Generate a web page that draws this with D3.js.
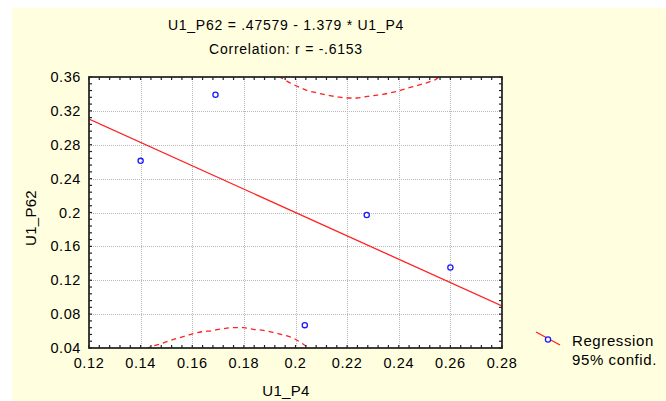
<!DOCTYPE html>
<html>
<head>
<meta charset="utf-8">
<style>
    body { margin: 0; background: #fff; }
    svg { font-family: "Liberation Sans", Arial, sans-serif; }
    .grid line { stroke: #b8b8b8; stroke-dasharray: 1,1; shape-rendering: crispEdges; }
    .tick-label { font-size: 14.5px; letter-spacing: 0.6px; fill: #000; }
</style>
</head>
<body>
<script src="https://d3js.org/d3.v7.min.js"></script>
<script>
    // chart values
    var titleLines = ["U1_P62 = .47579 - 1.379 * U1_P4", "Correlation: r = -.6153"];
    var xLabel = "U1_P4";
    var yLabel = "U1_P62";
    var legendLabels = ["Regression", "95% confid."];

    var xTicks = [0.12, 0.14, 0.16, 0.18, 0.2, 0.22, 0.24, 0.26, 0.28];
    var yTicks = [0.04, 0.08, 0.12, 0.16, 0.2, 0.24, 0.28, 0.32, 0.36];

    var pointX = [0.14, 0.169, 0.2276, 0.26, 0.2036];
    var pointY = [0.261, 0.339, 0.197, 0.135, 0.067];

    var intercept = 0.47579;
    var slope = -1.379;

    var upperBandX = [0.1935, 0.1959, 0.2002, 0.2041, 0.2079, 0.2121, 0.2160, 0.2198, 0.2239, 0.2278, 0.2317, 0.2360, 0.2398, 0.2441, 0.2480, 0.2521, 0.2537, 0.2560];
    var upperBandY = [0.3610, 0.3565, 0.3497, 0.3446, 0.3415, 0.3387, 0.3367, 0.3352, 0.3352, 0.3372, 0.3387, 0.3408, 0.3435, 0.3474, 0.3506, 0.3545, 0.3561, 0.3610];

    var lowerBandX = [0.1420, 0.1440, 0.1475, 0.1517, 0.1555, 0.1598, 0.1637, 0.1675, 0.1718, 0.1759, 0.1798, 0.1837, 0.1875, 0.1914, 0.1953, 0.1998, 0.2030, 0.2050, 0.2065];
    var lowerBandY = [0.0390, 0.0415, 0.0447, 0.0491, 0.0526, 0.0565, 0.0592, 0.0604, 0.0628, 0.0640, 0.0640, 0.0621, 0.0609, 0.0585, 0.0554, 0.0506, 0.0444, 0.0408, 0.0380];

    // layout
    var W = 666, H = 401;
    var plot = { left: 89, right: 502, top: 77, bottom: 348 };

    var svg = d3.select("body").append("svg")
        .attr("width", W)
        .attr("height", H);

    // yellow panel
    svg.append("rect")
        .attr("x", 12).attr("y", 8)
        .attr("width", W - 12).attr("height", H - 8)
        .attr("fill", "#ffffdf");

    var x = d3.scaleLinear().domain([0.12, 0.28]).range([plot.left, plot.right]);
    var y = d3.scaleLinear().domain([0.04, 0.36]).range([plot.bottom, plot.top]);

    svg.append("rect")
        .attr("x", plot.left).attr("y", plot.top)
        .attr("width", plot.right - plot.left)
        .attr("height", plot.bottom - plot.top)
        .attr("fill", "#fff");

    svg.append("clipPath").attr("id", "clip")
        .append("rect")
        .attr("x", plot.left).attr("y", plot.top)
        .attr("width", plot.right - plot.left)
        .attr("height", plot.bottom - plot.top);

    // grid
    var grid = svg.append("g").attr("class", "grid");
    grid.selectAll(".gx")
        .data(xTicks.slice(1, -1))
        .enter().append("line")
        .attr("x1", function(d) { return Math.round(x(d)) + 0.5; })
        .attr("x2", function(d) { return Math.round(x(d)) + 0.5; })
        .attr("y1", plot.top).attr("y2", plot.bottom);
    grid.selectAll(".gy")
        .data(yTicks.slice(1, -1))
        .enter().append("line")
        .attr("y1", function(d) { return Math.round(y(d)) + 0.5; })
        .attr("y2", function(d) { return Math.round(y(d)) + 0.5; })
        .attr("x1", plot.left).attr("x2", plot.right);

    // regression line and confidence bands
    var marks = svg.append("g").attr("clip-path", "url(#clip)");

    var line = d3.line()
        .x(function(d) { return x(d[0]); })
        .y(function(d) { return y(d[1]); });

    var xDom = x.domain();
    marks.append("path")
        .attr("d", line(xDom.map(function(v) { return [v, intercept + slope * v]; })))
        .attr("fill", "none")
        .attr("stroke", "#ff2020")
        .attr("stroke-width", 1.3);

    var bandLine = d3.line()
        .curve(d3.curveMonotoneX)
        .x(function(d) { return x(d[0]); })
        .y(function(d) { return y(d[1]); });

    [[upperBandX, upperBandY], [lowerBandX, lowerBandY]].forEach(function(b) {
        marks.append("path")
            .attr("d", bandLine(d3.zip(b[0], b[1])))
            .attr("fill", "none")
            .attr("stroke", "#ff2020")
            .attr("stroke-width", 1.3)
            .attr("stroke-dasharray", "5,4");
    });

    // points
    svg.selectAll(".pt")
        .data(d3.zip(pointX, pointY))
        .enter().append("circle")
        .attr("cx", function(d) { return x(d[0]); })
        .attr("cy", function(d) { return y(d[1]); })
        .attr("r", 2.6)
        .attr("fill", "none")
        .attr("stroke", "#1a1aff")
        .attr("stroke-width", 1.3);

    // frame with inward ticks on every side
    svg.append("rect")
        .attr("x", plot.left).attr("y", plot.top)
        .attr("width", plot.right - plot.left)
        .attr("height", plot.bottom - plot.top)
        .attr("fill", "none")
        .attr("stroke", "#2a2a2a")
        .attr("stroke-width", 1.8);

    var xMinor = d3.range(0.12, 0.2801, 0.004);
    var yMinor = d3.range(0.04, 0.3601, 0.008);
    var tk = svg.append("g").attr("stroke", "#222").attr("stroke-width", 1.2);
    xMinor.forEach(function(v) {
        tk.append("line").attr("x1", x(v)).attr("x2", x(v)).attr("y1", plot.bottom).attr("y2", plot.bottom - 3);
        tk.append("line").attr("x1", x(v)).attr("x2", x(v)).attr("y1", plot.top).attr("y2", plot.top + 3);
    });
    yMinor.forEach(function(v) {
        tk.append("line").attr("y1", y(v)).attr("y2", y(v)).attr("x1", plot.left).attr("x2", plot.left + 3);
        tk.append("line").attr("y1", y(v)).attr("y2", y(v)).attr("x1", plot.right).attr("x2", plot.right - 3);
    });

    // tick labels
    svg.selectAll(".xl")
        .data(xTicks)
        .enter().append("text")
        .attr("class", "tick-label")
        .attr("x", function(d) { return x(d); })
        .attr("y", plot.bottom + 20)
        .attr("text-anchor", "middle")
        .text(function(d) { return String(+d.toFixed(2)); });

    svg.selectAll(".yl")
        .data(yTicks)
        .enter().append("text")
        .attr("class", "tick-label")
        .attr("x", plot.left - 8)
        .attr("y", function(d) { return y(d) + 5; })
        .attr("text-anchor", "end")
        .text(function(d) { return String(+d.toFixed(2)); });

    // titles
    svg.selectAll(".title")
        .data(titleLines)
        .enter().append("text")
        .attr("x", 286)
        .attr("y", function(d, i) { return 30 + i * 24; })
        .attr("text-anchor", "middle")
        .style("font-size", "14px")
        .style("letter-spacing", "0.75px")
        .style("fill", "#000")
        .text(function(d) { return d; });

    svg.append("text")
        .attr("x", 286).attr("y", 396)
        .attr("text-anchor", "middle")
        .style("font-size", "15px")
        .style("letter-spacing", "0.3px")
        .style("fill", "#000")
        .text(xLabel);

    svg.append("text")
        .attr("transform", "translate(36,218) rotate(-90)")
        .attr("text-anchor", "middle")
        .style("font-size", "15px")
        .style("letter-spacing", "0.3px")
        .style("fill", "#000")
        .text(yLabel);

    // legend
    var lg = svg.append("g");
    lg.append("line")
        .attr("x1", 536).attr("y1", 332).attr("x2", 560).attr("y2", 345)
        .attr("stroke", "#ff2020").attr("stroke-width", 1.3);
    lg.append("circle")
        .attr("cx", 548).attr("cy", 339.5).attr("r", 2.6)
        .attr("fill", "#fff").attr("stroke", "#1a1aff").attr("stroke-width", 1.3);
    lg.selectAll("text")
        .data(legendLabels)
        .enter().append("text")
        .attr("x", 572)
        .attr("y", function(d, i) { return 346 + i * 19; })
        .style("font-size", "15px")
        .style("letter-spacing", "0.6px")
        .style("fill", "#000")
        .text(function(d) { return d; });
</script>
</body>
</html>
